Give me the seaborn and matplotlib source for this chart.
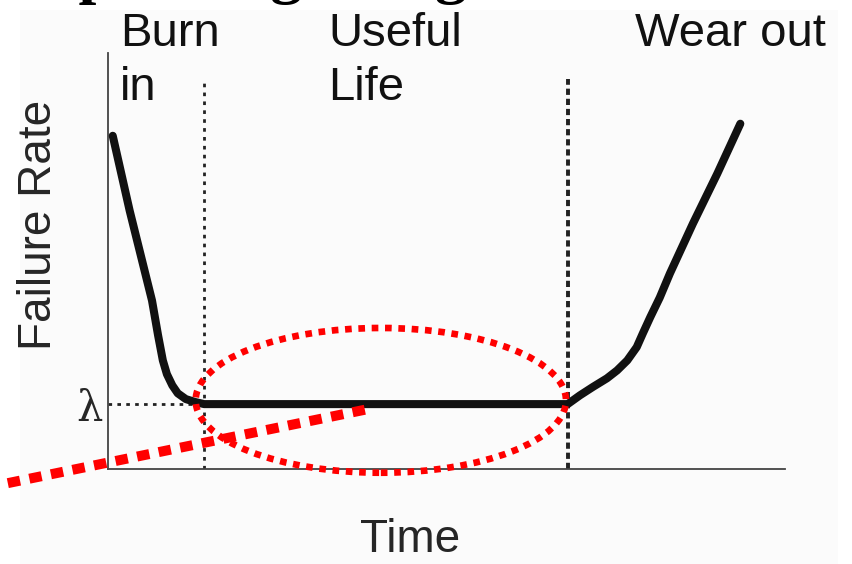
import matplotlib
matplotlib.use("Agg")
import matplotlib.pyplot as plt
from matplotlib.patches import Ellipse, Rectangle
import pandas as pd
import seaborn as sns

# Bathtub curve (time and failure rate in arbitrary units)
time = [0.07, 0.32, 0.65, 0.74, 0.81, 0.87, 0.95, 1.03, 1.15, 1.29, 1.42,
        6.79, 6.97, 7.16, 7.37, 7.52, 7.67, 7.81, 7.90, 8.01, 8.15, 8.30, 8.64, 9.00, 9.34]
failure_rate = [8.01, 6.21, 4.05, 3.21, 2.61, 2.28, 2.01, 1.82, 1.68, 1.61, 1.56,
                1.56, 1.77, 1.97, 2.18, 2.37, 2.61, 2.93, 3.26, 3.65, 4.12, 4.70, 5.90, 7.10, 8.30]

lam = 1.56                     # constant failure rate during useful life
phase_bounds = [1.42, 6.79]    # burn in -> useful life -> wear out
bound_top = 9.38
phase_labels = ["Burn\nin", "Useful\nLife", "Wear out"]

# red annotation: ellipse round the useful life, and a pointer line
ellipse_center = (4.03, 1.65)
ellipse_size = (5.47, 3.48)
pointer_time = [-1.48, 3.90]
pointer_rate = [-0.34, 1.46]

title = "Explaining Design"

sns.set_style("white")
plt.rcParams["font.family"] = ["Liberation Sans", "DejaVu Sans"]

fig = plt.figure(figsize=(8.53, 5.64), dpi=100)
fig.patch.set_facecolor("white")
fig.add_artist(Rectangle((20 / 853, 0), 818 / 853, 554 / 564, transform=fig.transFigure,
                         facecolor="#fbfbfb", edgecolor="none", zorder=0))
ax = fig.add_axes([108 / 853, 95 / 564, 677 / 853, 416 / 564])
ax.set_facecolor("none")

df = pd.DataFrame({"time": time, "rate": failure_rate})
sns.lineplot(data=df, x="time", y="rate", sort=False, color="#111111",
             linewidth=5.8, ax=ax, zorder=3, solid_joinstyle="round")

# phase boundaries
ax.plot([phase_bounds[0]] * 2, [0, bound_top], color="#222222", lw=2.0,
        linestyle=(0, (1.3, 1.9)), zorder=2)
ax.plot([phase_bounds[1]] * 2, [0, bound_top], color="#222222", lw=2.8,
        linestyle=(0, (1.6, 1.0)), zorder=2)
# lambda level
ax.plot([0, phase_bounds[0]], [lam, lam], color="#222222", lw=2.0,
        linestyle=(0, (1.3, 1.9)), zorder=2)

# red annotations
ax.add_patch(Ellipse(ellipse_center, ellipse_size[0], ellipse_size[1], fill=False,
                     edgecolor="#ff0000", lw=4.8, linestyle=(0, (1.0, 1.0)),
                     clip_on=False, zorder=5))
ax.plot(pointer_time, pointer_rate, color="#ff0000", lw=7.2,
        linestyle=(0, (1.25, 0.95)), clip_on=False, zorder=6)

ax.set_xlim(0, 10)
ax.set_ylim(0, 10)
sns.despine(ax=ax)
for side in ["left", "bottom"]:
    ax.spines[side].set_color("#444444")
    ax.spines[side].set_linewidth(1.3)
ax.set_xticks([])
ax.set_yticks([lam])
ax.set_yticklabels(["λ"], fontfamily="DejaVu Serif", fontsize=30)
ax.tick_params(axis="y", length=0, pad=4)

ax.set_xlabel("Time", fontsize=33)
ax.xaxis.set_label_coords(0.446, -0.118)
ax.set_ylabel("Failure Rate", fontsize=33)
ax.yaxis.set_label_coords(-0.07, 0.587)

# phase labels above the plot
label_x = [120, 328, 635]
for lx, text in zip(label_x, phase_labels):
    fig.text(lx / 853, 1 - 12 / 564, text, fontsize=34, ha="left", va="top",
             linespacing=1.3, color="#111111")

# title, mostly cropped at the top edge
fig.text(4 / 853, 1 + 9 / 564, title, fontsize=46, fontweight="bold",
         fontfamily="Liberation Serif", ha="left", va="baseline", color="black",
         zorder=1)

fig.savefig("out.png", dpi=100)
